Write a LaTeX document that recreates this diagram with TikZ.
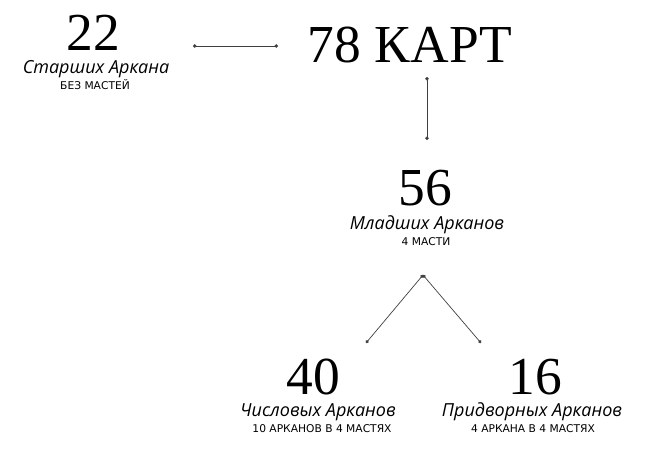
\documentclass[tikz,border=0pt]{standalone}
\usepackage{fontspec}
\setmainfont{Liberation Serif}
\setsansfont{Open Sans}
\newfontfamily\notefont{DejaVu Sans}
\usetikzlibrary{arrows.meta}
\begin{document}
\begin{tikzpicture}
[x=0.025cm,y=-0.025cm,
 numdecorate/.style={anchor=base,inner sep=0pt,font=\fontsize{38}{38}\selectfont},
 namedecorate/.style={anchor=base,inner sep=0pt,font=\sffamily\itshape\fontsize{12.8}{12.8}\selectfont},
 notedecorate/.style={anchor=base,inner sep=0pt,font=\notefont\fontsize{7.6}{7.6}\selectfont},
 linedecorate/.style={{Circle[length=2.4pt]}-{Circle[length=2.4pt]},line width=0.5pt,black!75}]
\useasboundingbox (0,0) rectangle (651,474);
%% numbers
\foreach \nodename/\x/\y/\txt in {twentytwo/93/50/22, fiftysix/425/205/56,
  forty/313/394/40, sixteen/535/394/16}
{
  \node (\nodename) at (\x,\y) [numdecorate] {\txt};
}
\node (seventyeight) at (410,62) [numdecorate] {78 КАРТ};
%% names and notes
\foreach \nodename/\x/\y/\txt in {majorname/96/73/Старших Аркана,
  minorname/427/229/Младших Арканов, pipname/318/416/Числовых Арканов,
  courtname/532/416/Придворных Арканов}
{
  \node (\nodename) at (\x,\y) [namedecorate] {\txt};
}
\foreach \nodename/\x/\y/\txt in {majornote/95/89/БЕЗ МАСТЕЙ,
  minornote/426/245/4 МАСТИ, pipnote/322/432/10 АРКАНОВ В 4 МАСТЯХ,
  courtnote/533/432/4 АРКАНА В 4 МАСТЯХ}
{
  \node (\nodename) at (\x,\y) [notedecorate] {\txt};
}
%% line ends
\foreach \pointname/\x/\y in {majorend/193/46, deckwest/278/46,
  decksouth/427/77, minornorth/427/140, fork/423/275,
  pipend/366/343, courtend/481/343}
{
  \coordinate (\pointname) at (\x,\y);
}
%% lines
\path
\foreach \startnode/\endnode in {majorend/deckwest, decksouth/minornorth,
  fork/pipend, fork/courtend}
{
  (\startnode) edge[linedecorate] (\endnode)
};
\end{tikzpicture}
\end{document}
